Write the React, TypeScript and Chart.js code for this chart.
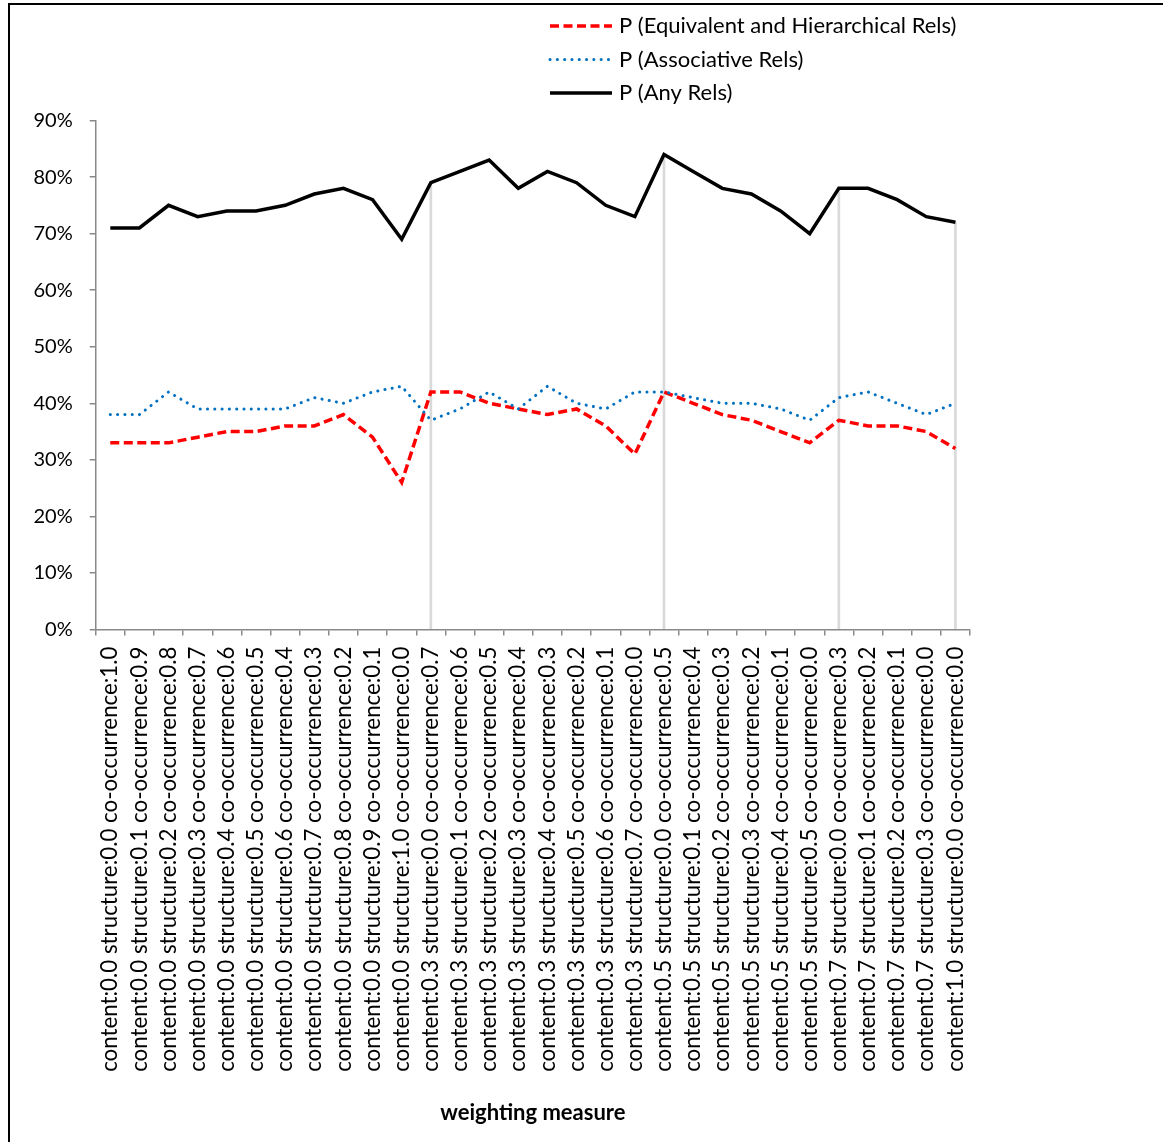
import React, { useEffect, useRef } from "react";
import { Chart, registerables } from "chart.js";

Chart.register(...registerables);

const categories = [
  "content:0.0 structure:0.0 co-occurrence:1.0",
  "content:0.0 structure:0.1 co-occurrence:0.9",
  "content:0.0 structure:0.2 co-occurrence:0.8",
  "content:0.0 structure:0.3 co-occurrence:0.7",
  "content:0.0 structure:0.4 co-occurrence:0.6",
  "content:0.0 structure:0.5 co-occurrence:0.5",
  "content:0.0 structure:0.6 co-occurrence:0.4",
  "content:0.0 structure:0.7 co-occurrence:0.3",
  "content:0.0 structure:0.8 co-occurrence:0.2",
  "content:0.0 structure:0.9 co-occurrence:0.1",
  "content:0.0 structure:1.0 co-occurrence:0.0",
  "content:0.3 structure:0.0 co-occurrence:0.7",
  "content:0.3 structure:0.1 co-occurrence:0.6",
  "content:0.3 structure:0.2 co-occurrence:0.5",
  "content:0.3 structure:0.3 co-occurrence:0.4",
  "content:0.3 structure:0.4 co-occurrence:0.3",
  "content:0.3 structure:0.5 co-occurrence:0.2",
  "content:0.3 structure:0.6 co-occurrence:0.1",
  "content:0.3 structure:0.7 co-occurrence:0.0",
  "content:0.5 structure:0.0 co-occurrence:0.5",
  "content:0.5 structure:0.1 co-occurrence:0.4",
  "content:0.5 structure:0.2 co-occurrence:0.3",
  "content:0.5 structure:0.3 co-occurrence:0.2",
  "content:0.5 structure:0.4 co-occurrence:0.1",
  "content:0.5 structure:0.5 co-occurrence:0.0",
  "content:0.7 structure:0.0 co-occurrence:0.3",
  "content:0.7 structure:0.1 co-occurrence:0.2",
  "content:0.7 structure:0.2 co-occurrence:0.1",
  "content:0.7 structure:0.3 co-occurrence:0.0",
  "content:1.0 structure:0.0 co-occurrence:0.0",
];

const seriesNames = [
  "P (Equivalent and Hierarchical Rels)",
  "P (Associative Rels)",
  "P (Any Rels)",
];

const equivHierRels = [
  33, 33, 33, 34, 35, 35, 36, 36, 38, 34, 26,
  42, 42, 40, 39, 38, 39, 36, 31,
  42, 40, 38, 37, 35, 33,
  37, 36, 36, 35,
  32,
];

const associativeRels = [
  38, 38, 42, 39, 39, 39, 39, 41, 40, 42, 43,
  37, 39, 42, 39, 43, 40, 39, 42,
  42, 41, 40, 40, 39, 37,
  41, 42, 40, 38,
  40,
];

const anyRels = [
  71, 71, 75, 73, 74, 74, 75, 77, 78, 76, 69,
  79, 81, 83, 78, 81, 79, 75, 73,
  84, 81, 78, 77, 74, 70,
  78, 78, 76, 73,
  72,
];

// first category of each content-weight group (0.3, 0.5, 0.7, 1.0)
const groupStartIndices = [11, 19, 25, 29];

const yMin = 0;
const yMax = 90;
const yStep = 10;

const FONT = "Lato, 'Open Sans', sans-serif";

const legendPlugin = {
  id: "verticalLegend",
  afterDraw(chart: any) {
    const ctx = chart.ctx;
    const items = chart.data.datasets.filter((d: any) => !d.hideFromLegend);
    ctx.save();
    items.forEach((ds: any, i: number) => {
      const y = 26 + i * 33.5;
      ctx.beginPath();
      ctx.strokeStyle = ds.borderColor;
      ctx.lineWidth = ds.borderWidth;
      ctx.setLineDash(ds.borderDash || []);
      ctx.lineCap = ds.borderCapStyle || "butt";
      ctx.moveTo(550, y);
      ctx.lineTo(612, y);
      ctx.stroke();
      ctx.setLineDash([]);
      ctx.fillStyle = "#000";
      ctx.font = `22px ${FONT}`;
      ctx.textAlign = "left";
      ctx.textBaseline = "middle";
      ctx.fillText(ds.label, 619, y);
    });
    ctx.restore();
  },
};

export default function App() {
  const ref = useRef<HTMLCanvasElement>(null);
  useEffect(() => {
    document.body.style.margin = "0";
    document.body.style.overflow = "hidden";
    Chart.defaults.font.family = FONT;
    const dropLines = anyRels.map((v, i) => (groupStartIndices.includes(i) ? v : null));
    const chart = new Chart(ref.current as HTMLCanvasElement, {
      type: "line",
      data: {
        labels: categories,
        datasets: [
          {
            type: "line",
            label: seriesNames[0],
            data: equivHierRels,
            borderColor: "#ff0000",
            borderWidth: 3.5,
            borderDash: [9, 4.5],
            pointRadius: 0,
            tension: 0,
            fill: false,
            order: 3,
          } as any,
          {
            type: "line",
            label: seriesNames[1],
            data: associativeRels,
            borderColor: "#0070c0",
            borderWidth: 3,
            borderDash: [0.1, 7.2],
            borderCapStyle: "round",
            pointRadius: 0,
            tension: 0,
            fill: false,
            order: 2,
          } as any,
          {
            type: "line",
            label: seriesNames[2],
            data: anyRels,
            borderColor: "#000000",
            borderWidth: 3.5,
            pointRadius: 0,
            tension: 0,
            fill: false,
            order: 1,
          } as any,
          {
            type: "bar",
            label: "drop lines",
            data: dropLines,
            backgroundColor: "#d9d9d9",
            borderWidth: 0,
            barThickness: 2,
            order: 4,
            hideFromLegend: true,
          } as any,
        ],
      },
      options: {
        responsive: true,
        maintainAspectRatio: false,
        animation: false,
        layout: { padding: { left: 32, right: 193, top: 120.5, bottom: 0 } },
        plugins: {
          legend: { display: false },
          tooltip: { enabled: false },
        },
        scales: {
          x: {
            offset: true,
            grid: {
              display: true,
              offset: true,
              drawOnChartArea: false,
              drawTicks: true,
              tickLength: 6,
              color: "#898989",
              lineWidth: 1.5,
            },
            border: { display: true, color: "#898989", width: 1.5 },
            ticks: {
              autoSkip: false,
              maxRotation: 90,
              minRotation: 90,
              color: "#000",
              font: { size: 22.3 },
              padding: 11,
            },
            title: {
              display: true,
              text: "weighting measure",
              color: "#000",
              font: { size: 22, weight: "bold" },
              padding: { top: 0, bottom: 16 },
            },
            afterFit: (s: any) => {
              s.height = 512.5;
            },
          },
          y: {
            min: yMin,
            max: yMax,
            ticks: {
              stepSize: yStep,
              callback: (v: any) => `${v}%`,
              color: "#000",
              font: { size: 20 },
              padding: 17,
            },
            grid: {
              drawOnChartArea: false,
              drawTicks: true,
              tickLength: 6,
              color: "#898989",
              lineWidth: 1.5,
            },
            border: { display: true, color: "#898989", width: 1.5 },
            afterFit: (s: any) => {
              s.width = 63.7;
            },
          },
        },
      },
      plugins: [legendPlugin],
    });
    return () => chart.destroy();
  }, []);

  return (
    <div style={{ position: "relative", width: 1163, height: 1142, overflow: "hidden", background: "#fff" }}>
      <div style={{ position: "absolute", left: 0, top: 0, width: 1163, height: 1142 }}>
        <canvas ref={ref} />
      </div>
      <div
        style={{
          position: "absolute",
          left: 8,
          top: 3,
          width: 1300,
          height: 1300,
          border: "2px solid #000",
          pointerEvents: "none",
        }}
      />
    </div>
  );
}
